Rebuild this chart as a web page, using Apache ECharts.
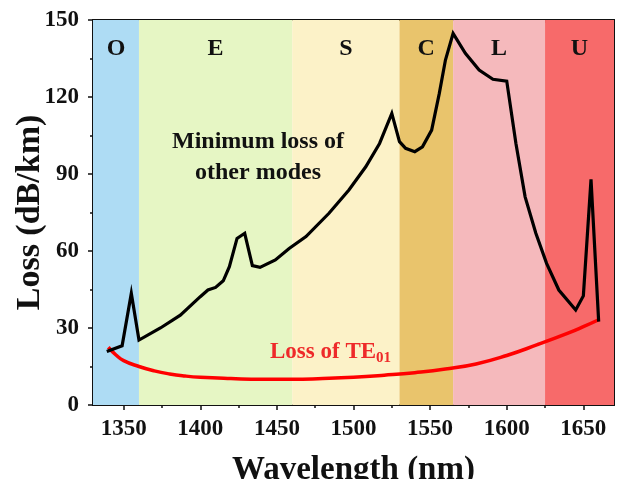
<!DOCTYPE html>
<html>
<head>
<meta charset="utf-8">
<script src="https://cdn.jsdelivr.net/npm/echarts@6/dist/echarts.min.js"></script>
<style>
  html, body { margin: 0; padding: 0; background: #fff; }
  #chart { width: 617px; height: 479px; }
</style>
</head>
<body>
<div id="chart"></div>
<script>
// telecom bands
const bandNames = ['O', 'E', 'S', 'C', 'L', 'U'];
const bandStarts = [1330, 1360, 1460, 1530, 1565, 1625];
const bandEnds = [1360, 1460, 1530, 1565, 1625, 1670];
const bandColors = ['#aedcf4', '#e6f6c4', '#fcf2c8', '#e9c46c', '#f5b9bc', '#f76a6a'];

// minimum loss of other modes (black)
const otherWl = [1339, 1349, 1355, 1360, 1374, 1387, 1400, 1405, 1410, 1415, 1419, 1424, 1429, 1434, 1439,
  1449, 1458, 1469, 1484, 1497, 1508, 1517, 1525, 1530, 1534, 1540, 1545, 1551, 1556, 1560, 1565,
  1573, 1582, 1591, 1600, 1606, 1612, 1619, 1626, 1634, 1645, 1650, 1655, 1660];
const otherLoss = [20.8, 23.1, 43.5, 25.3, 30, 35, 42.2, 44.8, 45.8, 48.4, 53.9, 64.9, 66.9, 54.3, 53.6,
  56.5, 61, 65.6, 74.7, 83.8, 92.8, 101.9, 113.6, 102.6, 100, 98.7, 100.6, 107.1, 121.4, 134.4, 144.8,
  137, 130.5, 126.9, 126.2, 101.9, 81.1, 66.9, 55.2, 44.8, 37, 42.5, 87.9, 32.5];

// loss of TE01 (red)
const teWl = [1340, 1345, 1350, 1360, 1370, 1380, 1390, 1400, 1420, 1440, 1460, 1480, 1500, 1520,
  1540, 1560, 1580, 1600, 1620, 1640, 1650, 1660];
const teLoss = [22.5, 19.5, 17.3, 15, 13.3, 12.1, 11.3, 10.8, 10.3, 10.0, 10.0, 10.3, 10.8, 11.6,
  12.6, 14, 16, 19.3, 23.5, 28, 30.5, 33.2];

const xMajor = [1350, 1400, 1450, 1500, 1550, 1600, 1650];
const xMinor = [1375, 1425, 1475, 1525, 1575, 1625];

const font = 'Liberation Serif';
const pair = (xs, ys) => xs.map((x, i) => [x, ys[i]]);

let chart = echarts.init(document.getElementById('chart'));

const baseX = {
  type: 'value', min: 1330, max: 1670,
  splitLine: { show: false },
  axisLine: { show: true, lineStyle: { color: '#111', width: 2 } }
};

let option = {
  backgroundColor: '#ffffff',
  animation: false,
  grid: { left: 93, right: 3, top: 20, bottom: 74, outerBoundsMode: 'none', containLabel: false },
  xAxis: [
    Object.assign({}, baseX, {
      position: 'bottom',
      name: 'Wavelength (nm)',
      nameLocation: 'middle',
      nameGap: 49,
      nameMoveOverlap: false,
      nameTextStyle: { fontFamily: font, fontWeight: 'bold', fontSize: 33, color: '#111' },
      axisTick: { show: true, length: 5, customValues: xMajor, lineStyle: { color: '#111', width: 1.5 } },
      axisLabel: {
        customValues: xMajor, margin: 13, formatter: (v) => String(v),
        fontFamily: font, fontWeight: 'bold', fontSize: 23, color: '#111'
      }
    }),
    Object.assign({}, baseX, {
      position: 'bottom',
      axisTick: { show: true, length: 3, customValues: xMinor, lineStyle: { color: '#111', width: 1.5 } },
      axisLabel: { show: false }
    }),
    Object.assign({}, baseX, {
      position: 'top',
      axisTick: { show: true, inside: true, length: 5, customValues: xMajor, lineStyle: { color: '#111', width: 1.5 } },
      axisLabel: { show: false }
    }),
    Object.assign({}, baseX, {
      position: 'top',
      axisTick: { show: true, inside: true, length: 3, customValues: xMinor, lineStyle: { color: '#111', width: 1.5 } },
      axisLabel: { show: false }
    })
  ],
  yAxis: [
    {
      type: 'value', min: 0, max: 150, interval: 30,
      position: 'left',
      name: 'Loss (dB/km)',
      nameLocation: 'middle',
      nameGap: 46,
      nameMoveOverlap: false,
      nameTextStyle: { fontFamily: font, fontWeight: 'bold', fontSize: 34, color: '#111' },
      splitLine: { show: false },
      axisLine: { show: true, lineStyle: { color: '#111', width: 2 } },
      axisTick: { show: true, length: 5, lineStyle: { color: '#111', width: 1.5 } },
      minorTick: { show: true, splitNumber: 2, length: 3, lineStyle: { color: '#111', width: 1.5 } },
      axisLabel: { margin: 14, fontFamily: font, fontWeight: 'bold', fontSize: 23, color: '#111' }
    },
    {
      type: 'value', min: 0, max: 150, interval: 30,
      position: 'right',
      splitLine: { show: false },
      axisLine: { show: true, lineStyle: { color: '#111', width: 2 } },
      axisTick: { show: true, inside: true, length: 5, lineStyle: { color: '#111', width: 1.5 } },
      minorTick: { show: true, splitNumber: 2, length: 3, lineStyle: { color: '#111', width: 1.5 } },
      axisLabel: { show: false }
    }
  ],
  series: [
    {
      name: 'bands',
      type: 'line',
      data: [],
      silent: true,
      markArea: {
        silent: true,
        label: {
          show: true, position: 'insideTop', distance: 17,
          fontFamily: font, fontWeight: 'bold', fontSize: 24, color: '#111'
        },
        data: bandNames.map((n, i) => [
          { name: n, xAxis: bandStarts[i], itemStyle: { color: bandColors[i], opacity: 1 } },
          { xAxis: bandEnds[i] }
        ])
      }
    },
    {
      name: 'Loss of TE01',
      type: 'line',
      data: pair(teWl, teLoss),
      smooth: true,
      showSymbol: false,
      lineStyle: { color: '#ff0000', width: 3.5 },
      z: 3
    },
    {
      name: 'Minimum loss of other modes',
      type: 'line',
      data: pair(otherWl, otherLoss),
      showSymbol: false,
      lineStyle: { color: '#000', width: 3.2, join: 'miter' },
      z: 4
    }
  ],
  graphic: [
    {
      type: 'text', x: 258, y: 126, z: 100,
      style: {
        text: 'Minimum loss of\nother modes', align: 'center',
        fontFamily: font, fontWeight: 'bold', fontSize: 24, fill: '#111', lineHeight: 31
      }
    },
    {
      type: 'text', x: 270, y: 339, z: 100,
      style: {
        text: '{a|Loss of TE}{b|01}',
        rich: {
          a: { fontFamily: font, fontWeight: 'bold', fontSize: 23, fill: '#ee2a2a' },
          b: { fontFamily: font, fontWeight: 'bold', fontSize: 15, fill: '#ee2a2a', padding: [12, 0, 0, 0] }
        }
      }
    }
  ]
};

chart.setOption(option);
</script>
</body>
</html>
